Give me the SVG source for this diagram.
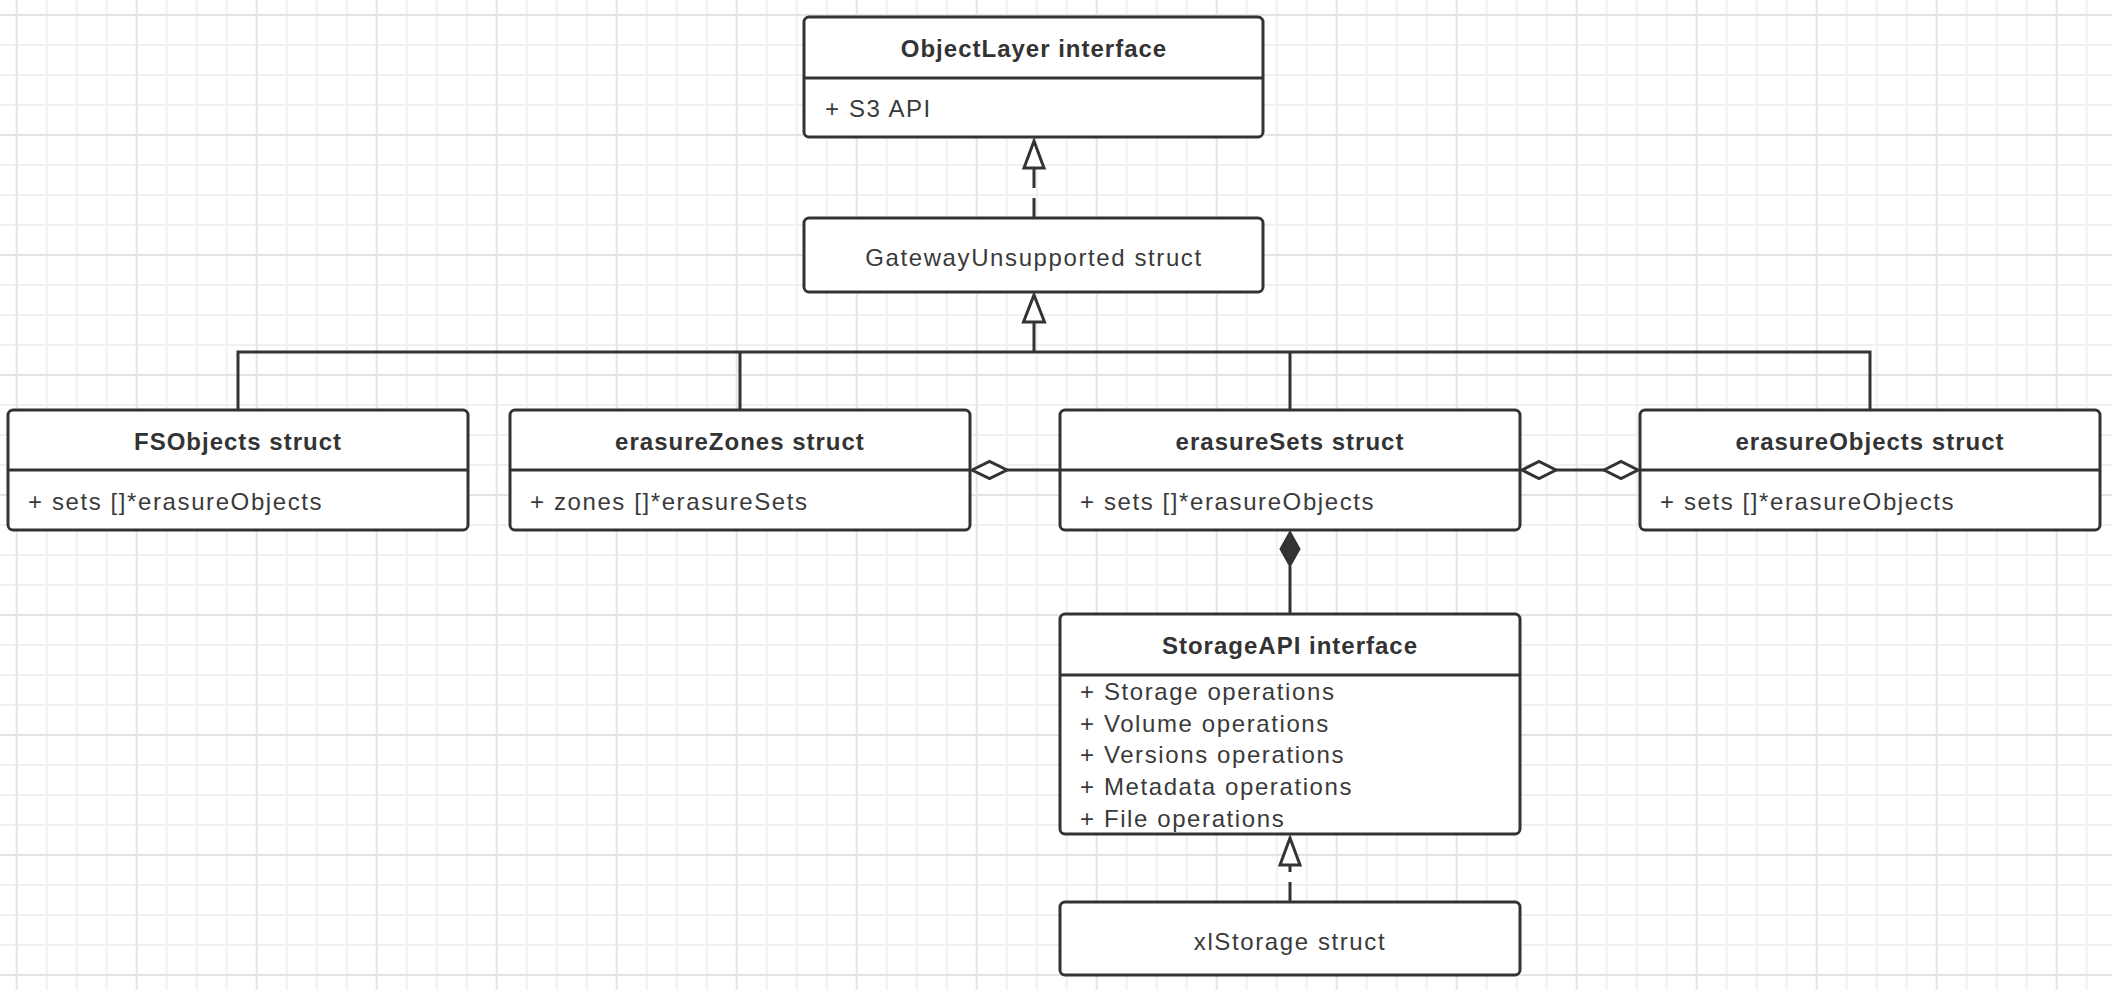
<svg xmlns="http://www.w3.org/2000/svg" width="2112" height="990" viewBox="0 0 2112 990">
<style>
.box{fill:#fff;stroke:#333;stroke-width:3}
.div{stroke:#333;stroke-width:3}
.t{font-family:"Liberation Sans",Arial,sans-serif;font-size:24px;fill:#333;font-weight:bold;letter-spacing:1px;text-anchor:middle}
.a{font-family:"Liberation Sans",Arial,sans-serif;font-size:24px;fill:#3a3a3a;letter-spacing:1.6px}
.c{font-family:"Liberation Sans",Arial,sans-serif;font-size:24px;fill:#3a3a3a;letter-spacing:1.6px;text-anchor:middle}
.ln{fill:none;stroke:#333;stroke-width:3}
.dash{fill:none;stroke:#333;stroke-width:3;stroke-dasharray:20 10}
.hol{fill:#fff;stroke:#333;stroke-width:3;stroke-linejoin:miter}
.fil{fill:#333;stroke:#333;stroke-width:2}
</style>
<defs>
<pattern id="grid" patternUnits="userSpaceOnUse" x="15.7" y="14" width="120" height="120">
<rect x="0" y="0" width="120" height="120" fill="#fff"/>
<rect x="30" y="0" width="2" height="120" fill="#f0f0f0"/>
<rect x="60" y="0" width="2" height="120" fill="#f0f0f0"/>
<rect x="90" y="0" width="2" height="120" fill="#f0f0f0"/>
<rect x="0" y="30" width="120" height="2" fill="#f0f0f0"/>
<rect x="0" y="60" width="120" height="2" fill="#f0f0f0"/>
<rect x="0" y="90" width="120" height="2" fill="#f0f0f0"/>
<rect x="0" y="0" width="2" height="120" fill="#e4e4e4"/>
<rect x="0" y="0" width="120" height="2" fill="#e4e4e4"/>
</pattern>
</defs>
<rect x="0" y="0" width="2112" height="990" fill="url(#grid)"/>

<g id="connectors">
<!-- ObjectLayer <- GatewayUnsupported (realization) -->
<path class="dash" d="M1034 218 L1034 168"/>
<path class="hol" d="M1034 141 L1044 168 L1024 168 Z"/>
<!-- GatewayUnsupported <- structs (generalization) -->
<path class="ln" d="M1034 322 L1034 352"/>
<path class="ln" d="M238 410 L238 352 L1870 352 L1870 410"/>
<path class="ln" d="M740 352 L740 410"/>
<path class="ln" d="M1290 352 L1290 410"/>
<path class="hol" d="M1034 295 L1044.5 322 L1023.5 322 Z"/>
<!-- erasureZones <>- erasureSets -->
<path class="ln" d="M1007 470 L1060 470"/>
<path class="hol" d="M972 470 L989.5 461.5 L1007 470 L989.5 478.5 Z"/>
<!-- erasureSets <>-<> erasureObjects -->
<path class="ln" d="M1556 470 L1604 470"/>
<path class="hol" d="M1522 470 L1539 461.5 L1556 470 L1539 478.5 Z"/>
<path class="hol" d="M1604 470 L1621 461.5 L1638 470 L1621 478.5 Z"/>
<!-- erasureSets <*>- StorageAPI -->
<path class="ln" d="M1290 566 L1290 614"/>
<path class="fil" d="M1290 532 L1299.5 549 L1290 566 L1280.5 549 Z"/>
<!-- StorageAPI <- xlStorage (realization) -->
<path class="dash" d="M1290 902 L1290 865"/>
<path class="hol" d="M1290 838 L1300 865 L1280 865 Z"/>
</g>

<g id="ObjectLayer">
<rect class="box" x="804" y="17" width="459" height="120" rx="5"/>
<line class="div" x1="804" y1="78" x2="1263" y2="78"/>
<text class="t" x="1034" y="57">ObjectLayer interface</text>
<text class="a" x="825" y="117">+ S3 API</text>
</g>

<g id="GatewayUnsupported">
<rect class="box" x="804" y="218" width="459" height="74" rx="5"/>
<text class="c" x="1034" y="266">GatewayUnsupported struct</text>
</g>

<g id="FSObjects">
<rect class="box" x="8" y="410" width="460" height="120" rx="5"/>
<line class="div" x1="8" y1="470" x2="468" y2="470"/>
<text class="t" x="238" y="450">FSObjects struct</text>
<text class="a" x="28" y="510">+ sets []*erasureObjects</text>
</g>

<g id="erasureZones">
<rect class="box" x="510" y="410" width="460" height="120" rx="5"/>
<line class="div" x1="510" y1="470" x2="970" y2="470"/>
<text class="t" x="740" y="450">erasureZones struct</text>
<text class="a" x="530" y="510">+ zones []*erasureSets</text>
</g>

<g id="erasureSets">
<rect class="box" x="1060" y="410" width="460" height="120" rx="5"/>
<line class="div" x1="1060" y1="470" x2="1520" y2="470"/>
<text class="t" x="1290" y="450">erasureSets struct</text>
<text class="a" x="1080" y="510">+ sets []*erasureObjects</text>
</g>

<g id="erasureObjects">
<rect class="box" x="1640" y="410" width="460" height="120" rx="5"/>
<line class="div" x1="1640" y1="470" x2="2100" y2="470"/>
<text class="t" x="1870" y="450">erasureObjects struct</text>
<text class="a" x="1660" y="510">+ sets []*erasureObjects</text>
</g>

<g id="StorageAPI">
<rect class="box" x="1060" y="614" width="460" height="220" rx="5"/>
<line class="div" x1="1060" y1="675" x2="1520" y2="675"/>
<text class="t" x="1290" y="654">StorageAPI interface</text>
<text class="a" x="1080" y="700">+ Storage operations</text>
<text class="a" x="1080" y="732">+ Volume operations</text>
<text class="a" x="1080" y="763">+ Versions operations</text>
<text class="a" x="1080" y="795">+ Metadata operations</text>
<text class="a" x="1080" y="827">+ File operations</text>
</g>

<g id="xlStorage">
<rect class="box" x="1060" y="902" width="460" height="73" rx="5"/>
<text class="c" x="1290" y="950">xlStorage struct</text>
</g>
</svg>
